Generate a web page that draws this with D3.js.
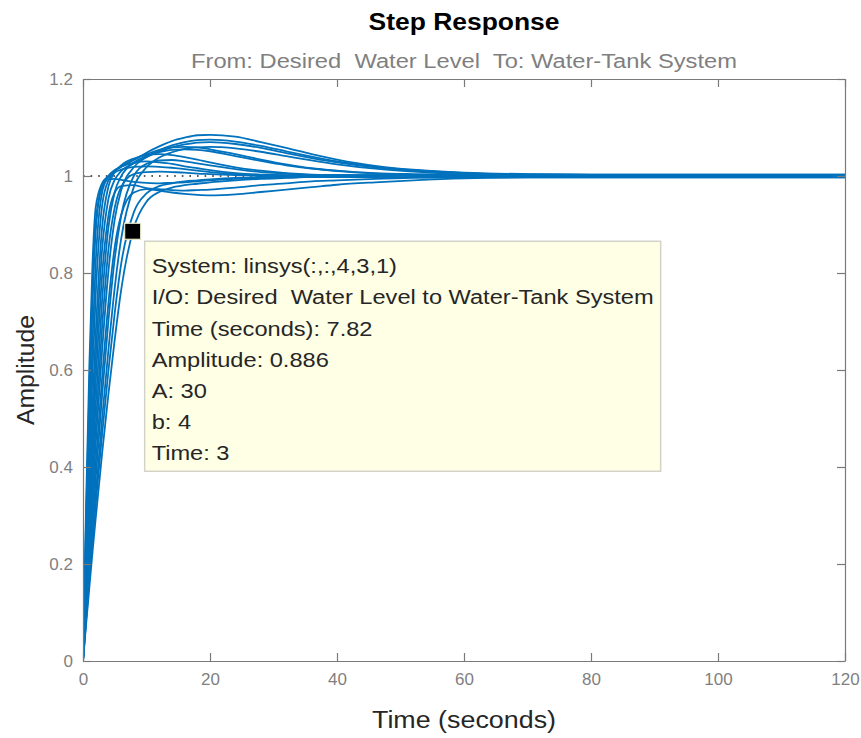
<!DOCTYPE html>
<html>
<head>
<meta charset="utf-8">
<script src="https://cdn.jsdelivr.net/npm/d3@7"></script>
<style>
  html, body { margin: 0; padding: 0; background: #ffffff; }
  svg { display: block; }
  text { font-family: "Liberation Sans", Arial, Helvetica, sans-serif; white-space: pre; }
</style>
</head>
<body>
<svg id="chart" width="861" height="738"></svg>
<script>
// ---------------- data ----------------
const chartTitle = "Step Response";
const ioSubtitle = "From: Desired  Water Level  To: Water-Tank System";
const xLabel = "Time (seconds)";
const yLabel = "Amplitude";
const xTicks = [0, 20, 40, 60, 80, 100, 120];
const yTicks = [0, 0.2, 0.4, 0.6, 0.8, 1, 1.2];
const steadyState = 1;

// sample times (seconds) shared by all responses
const timeS = [0, 0.5, 1, 1.5, 2, 3, 4, 5, 6, 8, 10, 12, 14, 16, 18, 20, 24, 28, 32, 36, 40, 46, 52, 60, 70, 80, 120];

// step-response amplitudes of the parameter-varied systems
const resp01 = [0, 0.330, 0.610, 0.820, 0.935, 0.985, 1.000, 1.012, 1.019, 1.027, 1.030, 1.028, 1.025, 1.020, 1.016, 1.012, 1.006, 1.003, 1.002, 1.002, 1.002, 1.002, 1.002, 1.002, 1.002, 1.002, 1.002];
const resp02 = [0, 0.300, 0.560, 0.775, 0.905, 0.978, 0.998, 1.010, 1.019, 1.034, 1.045, 1.054, 1.059, 1.060, 1.059, 1.055, 1.045, 1.034, 1.024, 1.016, 1.011, 1.006, 1.004, 1.003, 1.003, 1.003, 1.003];
const resp03 = [0, 0.278, 0.525, 0.737, 0.885, 0.978, 0.993, 0.994, 0.992, 0.988, 0.986, 0.985, 0.986, 0.987, 0.989, 0.991, 0.994, 0.996, 0.997, 0.998, 0.998, 0.998, 0.998, 0.998, 0.998, 0.998, 0.998];
const resp04 = [0, 0.243, 0.463, 0.660, 0.821, 0.966, 0.999, 1.012, 1.019, 1.033, 1.048, 1.061, 1.072, 1.079, 1.084, 1.085, 1.081, 1.070, 1.058, 1.045, 1.034, 1.021, 1.013, 1.007, 1.004, 1.003, 1.003];
const resp05 = [0, 0.217, 0.415, 0.595, 0.754, 0.938, 0.991, 1.007, 1.013, 1.019, 1.020, 1.019, 1.017, 1.014, 1.011, 1.008, 1.004, 1.002, 1.001, 1.001, 1.001, 1.001, 1.001, 1.001, 1.001, 1.001, 1.001];
const resp06 = [0, 0.188, 0.364, 0.526, 0.674, 0.893, 0.978, 1.008, 1.022, 1.036, 1.043, 1.045, 1.043, 1.039, 1.034, 1.028, 1.018, 1.011, 1.006, 1.003, 1.002, 1.001, 1.000, 1, 1, 1, 1];
const resp07 = [0, 0.172, 0.333, 0.482, 0.621, 0.847, 0.953, 0.992, 1.010, 1.026, 1.039, 1.050, 1.059, 1.065, 1.069, 1.070, 1.066, 1.058, 1.047, 1.037, 1.028, 1.018, 1.011, 1.006, 1.003, 1.002, 1.002];
const resp08 = [0, 0.158, 0.307, 0.446, 0.574, 0.794, 0.918, 0.966, 0.979, 0.981, 0.975, 0.973, 0.971, 0.970, 0.971, 0.972, 0.976, 0.981, 0.985, 0.989, 0.991, 0.994, 0.996, 0.997, 0.997, 0.997, 0.997];
const resp09 = [0, 0.143, 0.278, 0.406, 0.527, 0.742, 0.894, 0.967, 0.999, 1.028, 1.041, 1.049, 1.054, 1.055, 1.054, 1.051, 1.041, 1.031, 1.022, 1.015, 1.010, 1.005, 1.002, 1.001, 1.001, 1.001, 1.001];
const resp10 = [0, 0.130, 0.254, 0.371, 0.483, 0.687, 0.848, 0.935, 0.977, 1.004, 1.008, 1.009, 1.008, 1.007, 1.005, 1.004, 1.002, 1.000, 0.999, 0.999, 0.999, 0.999, 0.999, 0.999, 0.999, 0.999, 0.999];
const resp11 = [0, 0.120, 0.234, 0.343, 0.447, 0.639, 0.803, 0.911, 0.970, 1.018, 1.039, 1.053, 1.063, 1.070, 1.074, 1.075, 1.071, 1.062, 1.051, 1.040, 1.030, 1.019, 1.012, 1.006, 1.003, 1.002, 1.002];
const resp12 = [0, 0.109, 0.213, 0.312, 0.407, 0.582, 0.738, 0.854, 0.919, 0.966, 0.973, 0.970, 0.966, 0.963, 0.961, 0.960, 0.962, 0.967, 0.972, 0.977, 0.982, 0.987, 0.991, 0.995, 0.997, 0.997, 0.997];
const resp13 = [0, 0.099, 0.195, 0.287, 0.377, 0.546, 0.701, 0.830, 0.917, 1.000, 1.025, 1.032, 1.033, 1.030, 1.026, 1.022, 1.014, 1.008, 1.005, 1.002, 1.001, 1.000, 1, 1, 1, 1, 1];
const resp14 = [0, 0.090, 0.177, 0.262, 0.343, 0.498, 0.641, 0.770, 0.870, 0.977, 1.018, 1.038, 1.049, 1.056, 1.059, 1.060, 1.057, 1.050, 1.041, 1.032, 1.024, 1.015, 1.009, 1.004, 1.002, 1.001, 1.001];
const resp15 = [0, 0.085, 0.167, 0.246, 0.323, 0.466, 0.598, 0.718, 0.818, 0.925, 0.964, 0.979, 0.985, 0.989, 0.991, 0.993, 0.996, 0.997, 0.998, 0.998, 0.998, 0.998, 0.998, 0.998, 0.998, 0.998, 0.998];
const resp16 = [0, 0.077, 0.152, 0.225, 0.294, 0.427, 0.550, 0.663, 0.764, 0.893, 0.947, 0.967, 0.976, 0.981, 0.984, 0.987, 0.991, 0.994, 0.996, 0.998, 0.998, 0.999, 0.999, 0.999, 0.999, 0.999, 0.999];
const responses = [resp01, resp02, resp03, resp04, resp05, resp06, resp07, resp08,
                   resp09, resp10, resp11, resp12, resp13, resp14, resp15, resp16];

// data tip
const tipTime = 7.82;
const tipAmplitude = 0.886;
const tipLines = [
  "System: linsys(:,:,4,3,1)",
  "I/O: Desired  Water Level to Water-Tank System",
  "Time (seconds): 7.82",
  "Amplitude: 0.886",
  "A: 30",
  "b: 4",
  "Time: 3"
];

// ---------------- drawing ----------------
const W = 861, H = 738;
const margin = { left: 83, right: 16, top: 79, bottom: 77 };
const svg = d3.select("#chart");

const x = d3.scaleLinear().domain([0, 120]).range([margin.left, W - margin.right]);
const y = d3.scaleLinear().domain([0, 1.2]).range([H - margin.bottom, margin.top]);

const axisColor = "#7a7a7a";
const tickTextColor = "#7f7f7f";
const lineColor = "#0072bd";

// stretch a text element horizontally to a given width (layout helper)
function fitWidth(sel, width) {
  sel.each(function () {
    this.setAttribute("textLength", width);
    this.setAttribute("lengthAdjust", "spacingAndGlyphs");
  });
}
function stretchBy(sel, k) {
  sel.each(function () {
    const w = this.getComputedTextLength();
    this.setAttribute("textLength", w * k);
    this.setAttribute("lengthAdjust", "spacingAndGlyphs");
  });
}

svg.append("defs").append("clipPath").attr("id", "plotClip")
  .append("rect")
  .attr("x", x(0)).attr("y", y(1.2))
  .attr("width", x(120) - x(0)).attr("height", y(0) - y(1.2));

// steady-state dotted line
svg.append("line")
  .attr("x1", x(0)).attr("x2", x(120))
  .attr("y1", y(steadyState)).attr("y2", y(steadyState))
  .attr("stroke", "#222")
  .attr("stroke-width", 1.4)
  .attr("stroke-dasharray", "1.6,6");

// responses
const lineGen = d3.line()
  .x((d, i) => x(timeS[i]))
  .y(d => y(d))
  .curve(d3.curveMonotoneX);

svg.append("g").attr("clip-path", "url(#plotClip)")
  .selectAll("path")
  .data(responses)
  .join("path")
  .attr("d", d => lineGen(d))
  .attr("fill", "none")
  .attr("stroke", lineColor)
  .attr("stroke-width", 1.8);

// axes (ticks pointing inwards, box on all four sides)
function styleAxis(g) {
  g.selectAll(".domain").attr("stroke", axisColor).attr("stroke-width", 1.2);
  g.selectAll(".tick line").attr("stroke", axisColor).attr("stroke-width", 1.2);
  g.selectAll(".tick text").attr("fill", tickTextColor)
    .style("font-family", '"Liberation Sans", Arial, sans-serif')
    .style("font-size", "17px");
}

const fmtY = d => (d === 0 || d === 1) ? String(d) : d3.format(".1f")(d);

svg.append("g")
  .attr("transform", `translate(0,${y(0)})`)
  .call(d3.axisBottom(x).tickValues(xTicks).tickSizeInner(-8).tickSizeOuter(0).tickPadding(12).tickFormat(d3.format("d")))
  .call(styleAxis);

svg.append("g")
  .attr("transform", `translate(0,${y(1.2)})`)
  .call(d3.axisTop(x).tickValues(xTicks).tickSizeInner(-8).tickSizeOuter(0).tickFormat(""))
  .call(styleAxis);

svg.append("g")
  .attr("transform", `translate(${x(0)},0)`)
  .call(d3.axisLeft(y).tickValues(yTicks).tickSizeInner(-8).tickSizeOuter(0).tickPadding(10).tickFormat(fmtY))
  .call(styleAxis);

svg.append("g")
  .attr("transform", `translate(${x(120)},0)`)
  .call(d3.axisRight(y).tickValues(yTicks).tickSizeInner(-8).tickSizeOuter(0).tickFormat(""))
  .call(styleAxis);

// titles and labels
const cx = (x(0) + x(120)) / 2;
svg.append("text")
  .attr("x", cx).attr("y", 30)
  .attr("text-anchor", "middle")
  .attr("font-weight", "bold")
  .attr("font-size", 23)
  .attr("fill", "#000")
  .text(chartTitle)
  .call(fitWidth, 191);

svg.append("text")
  .attr("x", cx).attr("y", 68)
  .attr("text-anchor", "middle")
  .attr("font-size", 20)
  .attr("fill", "#7f7f7f")
  .text(ioSubtitle)
  .call(fitWidth, 546);

svg.append("text")
  .attr("x", cx).attr("y", 728)
  .attr("text-anchor", "middle")
  .attr("font-size", 23)
  .attr("fill", "#262626")
  .text(xLabel)
  .call(fitWidth, 184);

svg.append("text")
  .attr("transform", `translate(34,${(y(0) + y(1.2)) / 2}) rotate(-90)`)
  .attr("text-anchor", "middle")
  .attr("font-size", 23)
  .attr("fill", "#262626")
  .text(yLabel)
  .call(fitWidth, 110);

// data tip marker and box
const mx = x(tipTime), my = y(tipAmplitude);
const boxX = mx + 12, boxY = my + 10;
const boxW = 516, boxH = 230;

svg.append("rect")
  .attr("x", boxX).attr("y", boxY)
  .attr("width", boxW).attr("height", boxH)
  .attr("fill", "#ffffe6")
  .attr("stroke", "#d2d2c8")
  .attr("stroke-width", 1.5);

const tipText = svg.append("g")
  .selectAll("text")
  .data(tipLines)
  .join("text")
  .attr("x", boxX + 7)
  .attr("y", (d, i) => boxY + 32 + i * 31.2)
  .attr("font-size", 20)
  .attr("fill", "#262626")
  .text(d => d);

// common horizontal stretch so the I/O line spans the measured width
const ioNode = tipText.nodes()[1];
const kTip = 502 / ioNode.getComputedTextLength();
tipText.call(stretchBy, kTip);

svg.append("rect")
  .attr("x", mx - 8).attr("y", my - 8)
  .attr("width", 16).attr("height", 16)
  .attr("fill", "#000")
  .attr("stroke", "#e6e6c8")
  .attr("stroke-width", 1.2);
</script>
</body>
</html>
